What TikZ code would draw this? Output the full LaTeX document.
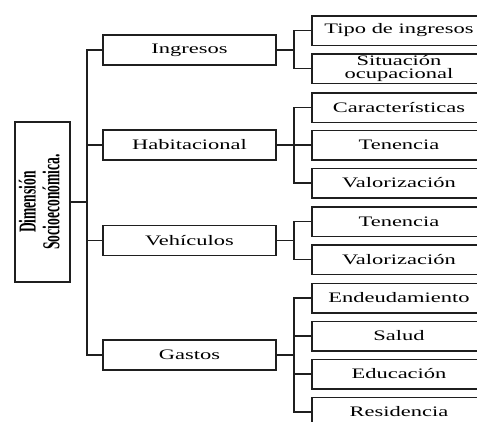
\documentclass[tikz,border=0pt]{standalone}
\usepackage{fontspec}
\setmainfont{Liberation Serif}[FakeStretch=1.55]
\newfontfamily\raizfont{Liberation Serif}[FakeStretch=0.82]
\usetikzlibrary{calc}

\begin{document}
\begin{tikzpicture}[x=1pt, y=-1pt,
    linea/.style={line width=1.5pt, draw=black!88},
    cajaGrupo/.style={linea, rectangle, inner sep=0pt, minimum width=173pt,
        minimum height=30pt, font=\fontsize{14.5}{13}\selectfont},
    cajaItem/.style={cajaGrupo, minimum width=174pt, minimum height=29.5pt, align=center},
    cajaRaiz/.style={linea, rectangle, inner sep=0pt, minimum width=55pt, minimum height=160pt}]

    \def\xGrupo{189.5}
    \def\xItem{399}
    \def\paso{17}

    \useasboundingbox (0,0) rectangle (477,421);

    % Caja principal
    \node[cajaRaiz] (raiz) at (42.5,202) {\rotatebox{90}{\scalebox{1}[1.47]{\raizfont\bfseries
        \fontsize{16.5}{15.5}\selectfont\begin{tabular}{@{}c@{}}Dimensión\\Socioeconómica.\end{tabular}}}};

    % Componentes
    \node[cajaGrupo] (ingresos) at (\xGrupo,50) {Ingresos};
    \node[cajaGrupo] (habitacional) at (\xGrupo,145) {Habitacional};
    \node[cajaGrupo] (vehiculos) at (\xGrupo,240.5) {Vehículos};
    \node[cajaGrupo] (gastos) at (\xGrupo,355) {Gastos};

    % Indicadores
    \node[cajaItem] (tipoIngresos) at (\xItem,30.5) {Tipo de ingresos};
    \node[cajaItem] (situacion) at (\xItem,68.5) {Situación\\ocupacional};
    \node[cajaItem] (caracteristicas) at (\xItem,107.5) {Características};
    \node[cajaItem] (tenenciaHab) at (\xItem,145) {Tenencia};
    \node[cajaItem] (valorHab) at (\xItem,183) {Valorización};
    \node[cajaItem] (tenenciaVeh) at (\xItem,221.5) {Tenencia};
    \node[cajaItem] (valorVeh) at (\xItem,259.5) {Valorización};
    \node[cajaItem] (endeudamiento) at (\xItem,298) {Endeudamiento};
    \node[cajaItem] (salud) at (\xItem,336) {Salud};
    \node[cajaItem] (educacion) at (\xItem,374) {Educación};
    \node[cajaItem] (residencia) at (\xItem,412) {Residencia};

    % Conectar caja principal con componentes
    \foreach \g in {ingresos, habitacional, vehiculos, gastos}
        \draw[linea] (raiz.east) -- ++(16,0) |- (\g.west);

    % Conectar componentes con indicadores
    \foreach \h in {tipoIngresos, situacion}
        \draw[linea] (ingresos.east) -- ++(\paso,0) |- (\h.west);
    \foreach \h in {caracteristicas, tenenciaHab, valorHab}
        \draw[linea] (habitacional.east) -- ++(\paso,0) |- (\h.west);
    \foreach \h in {tenenciaVeh, valorVeh}
        \draw[linea] (vehiculos.east) -- ++(\paso,0) |- (\h.west);
    \foreach \h in {endeudamiento, salud, educacion, residencia}
        \draw[linea] (gastos.east) -- ++(\paso,0) |- (\h.west);
\end{tikzpicture}
\end{document}
